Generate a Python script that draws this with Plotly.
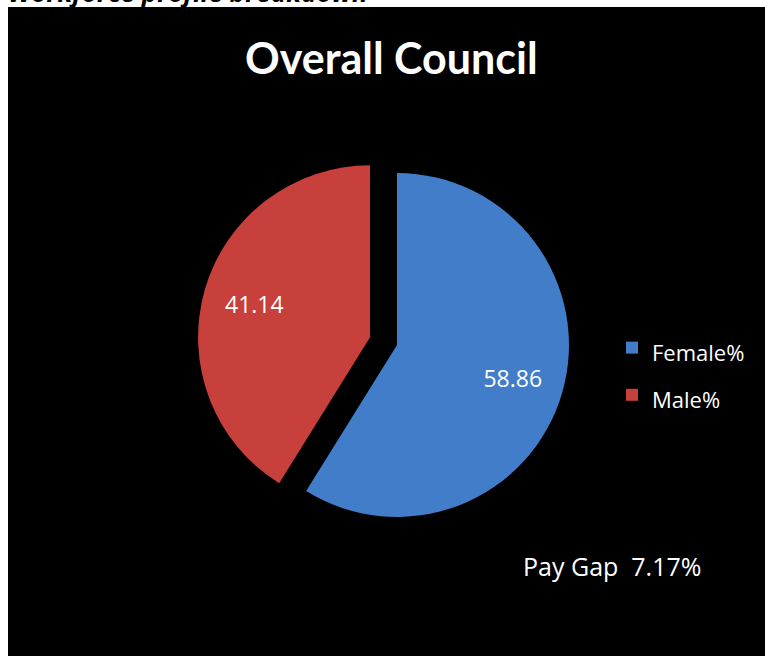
import plotly.graph_objects as go

# Data
categories = ["Female%", "Male%"]
values = [58.86, 41.14]
pulls = [0.0, 0.163]
colors = ["#417dc9", "#c8403b"]
title_text = "Overall Council"
note_text = "Pay Gap  7.17%"
header_text = "Workforce profile breakdown"

W, H = 765, 656
FONT = "Open Sans"
DOMAIN = dict(x=[197 / W, 597 / W], y=[1 - 545 / H, 1 - 145 / H])

legend_labels = ["<span style='font-size:22px'>" + c + "</span>" for c in categories]

fig = go.Figure()
# filled slices
fig.add_trace(go.Pie(
    labels=legend_labels,
    values=values,
    pull=pulls,
    sort=False,
    direction="clockwise",
    rotation=0,
    marker=dict(colors=colors, line=dict(width=0)),
    textinfo="none",
    domain=DOMAIN,
    hoverinfo="value",
))
# value labels (transparent overlay, ring-centred text placement)
fig.add_trace(go.Pie(
    labels=legend_labels,
    values=values,
    pull=pulls,
    sort=False,
    direction="clockwise",
    rotation=0,
    hole=0.4,
    marker=dict(colors=["rgba(0,0,0,0)"] * len(values), line=dict(width=0)),
    textinfo="value",
    textposition="inside",
    insidetextorientation="horizontal",
    textfont=dict(family=FONT, size=23, color="white"),
    domain=DOMAIN,
    showlegend=False,
    hoverinfo="skip",
))

fig.update_layout(
    width=W, height=H,
    margin=dict(l=0, r=0, t=0, b=0),
    paper_bgcolor="white",
    plot_bgcolor="white",
    shapes=[dict(type="rect", xref="paper", yref="paper",
                 x0=8 / W, x1=1, y0=0, y1=1 - 7 / H,
                 fillcolor="black", line=dict(width=0), layer="below")],
    showlegend=True,
    legend=dict(x=612 / W, y=1 - 319 / H, xanchor="left", yanchor="top",
                bgcolor="rgba(0,0,0,0)",
                font=dict(family=FONT, size=34, color="white")),
    annotations=[
        dict(text="<b>" + title_text + "</b>", xref="paper", yref="paper",
             x=392 / W, y=1 - 57 / H, xanchor="center", yanchor="middle",
             showarrow=False, font=dict(family="Lato", size=43, color="white")),
        dict(text=note_text, xref="paper", yref="paper",
             x=612 / W, y=1 - 566 / H, xanchor="center", yanchor="middle",
             showarrow=False, font=dict(family=FONT, size=25, color="white")),
        dict(text="<b><i>" + header_text + "</i></b>", xref="paper", yref="paper",
             x=370 / W, y=1 - 11.5 / H, xanchor="right", yanchor="bottom",
             showarrow=False, font=dict(family=FONT, size=26, color="black")),
    ],
)

fig.write_html("out.html",
               config={"displayModeBar": False},
               post_script="document.body.style.margin='0';document.body.style.overflow='hidden';")
